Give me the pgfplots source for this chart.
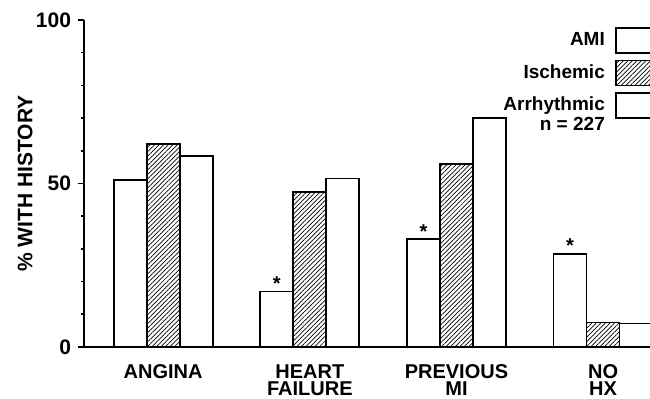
\documentclass[border=0pt]{standalone}
\usepackage{fontspec}
\setmainfont{Liberation Sans}
\usepackage{pgfplots}
\pgfplotsset{compat=1.18}
\usetikzlibrary{patterns.meta}

\begin{document}
\begin{tikzpicture}
\begin{axis}[
  at={(0,0)}, anchor=south west,
  scale only axis, width=283bp, height=163.5bp,
  font=\bfseries\fontsize{10bp}{12bp}\selectfont,
  axis x line=bottom, axis y line=left,
  axis line style={line width=1bp, -},
  every outer x axis line/.append style={-},
  every outer y axis line/.append style={-},
  xmin=-0.54, xmax=3.32, ymin=0, ymax=100,
  ybar=0pt, bar width=16.5bp,
  xtick={0,1,2,3},
  xticklabels={ANGINA, HEART\\FAILURE, PREVIOUS\\MI, NO\\HX},
  xticklabel style={align=center, anchor=north, inner sep=0pt, yshift=-5.5bp, font=\bfseries\fontsize{10bp}{8.5bp}\selectfont},
  x tick style={draw=none},
  ytick={0,50,100}, minor y tick num=4,
  yticklabel style={font=\bfseries\fontsize{10.5bp}{12bp}\selectfont},
  tick align=outside, major tick length=3bp, minor tick length=1.5bp,
  y tick style={line width=0.8bp, black},
  /pgf/number format/assume math mode=true,
  ylabel={\% WITH HISTORY},
  ylabel style={at={(axis description cs:-0.1042,0.5)}, anchor=center, font=\bfseries\fontsize{10.5bp}{12bp}\selectfont},
  legend plot pos=right, legend cell align=right,
  legend style={draw=none, fill=none, at={(1.0124,0.9786)}, anchor=north east, inner sep=0pt, row sep=2.75bp, column sep=5bp, nodes={inner sep=0pt}, font=\bfseries\fontsize{9.5bp}{11bp}\selectfont},
  legend image code/.code={\draw[#1] (0bp,-6.25bp) rectangle (20bp,6.25bp);},
  clip=false,
]
\addplot[fill=white, draw=black, line width=0.9bp,
  point meta=explicit symbolic,
  nodes near coords={\pgfplotspointmeta},
  every node near coord/.append style={inner sep=0pt, anchor=south, yshift=0bp, font=\bfseries\fontsize{10bp}{12bp}\selectfont}]
  coordinates {(0,51) [] (1,17) [*] (2,33) [*] (3,28.5) [*]};
\addlegendentry{AMI}
\addplot[pattern={Lines[angle=45,distance=1.6bp,line width=0.35bp]}, draw=black, line width=0.9bp]
  coordinates {(0,62) (1,47.5) (2,56) (3,7.5)};
\addlegendentry{Ischemic}
\addplot[fill=white, draw=black, line width=0.9bp]
  coordinates {(0,58.5) (1,51.5) (2,70) (3,7.2)};
\addlegendentry{Arrhythmic}
\addlegendimage{empty legend}
\addlegendentry{\raisebox{4bp}[7bp][0pt]{n = 227}}
\end{axis}
\pgfresetboundingbox
\useasboundingbox (-42bp,-26bp) rectangle (283bp,173.5bp);
\end{tikzpicture}
\end{document}
